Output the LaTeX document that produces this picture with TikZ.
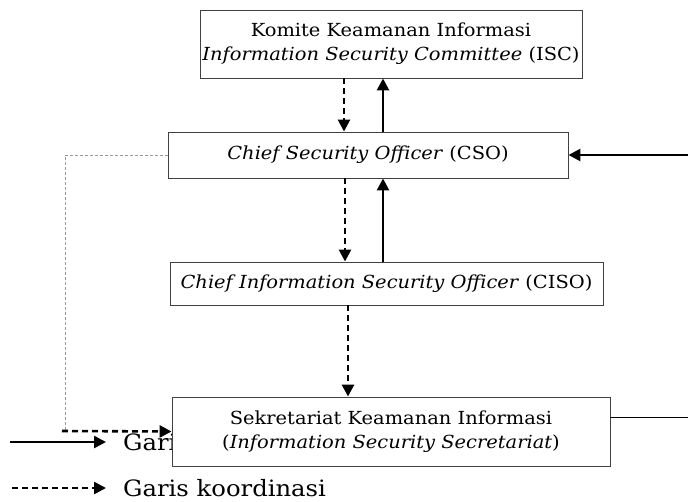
\documentclass[tikz,border=0pt]{standalone}
\usepackage{fontspec}
\setmainfont[FakeStretch=1.08]{DejaVu Serif}
\usetikzlibrary{arrows.meta,positioning,calc}

\begin{document}
\begin{tikzpicture}[x=1pt,y=-1pt,
    unit/.style={draw=black!75,line width=0.9pt,fill=white,align=center,inner sep=0pt,
      font=\fontsize{18}{24}\selectfont},
    cmdline/.style={line width=2.6pt,-{Triangle[length=12pt,width=12pt]}},
    coordline/.style={cmdline,dash pattern=on 6pt off 4pt},
    liaison/.style={draw=black!40,line width=0.8pt,dash pattern=on 3pt off 2pt},
    legend/.style={font=\fontsize{22.5}{26}\selectfont,anchor=west,inner sep=0pt}]
  \useasboundingbox (0,0) rectangle (688,501);
  % legend first, the box below hides part of it
  \coordinate (l1a) at (10,442);
  \coordinate (l1b) at (106,442);
  \coordinate (l2a) at (12,488);
  \coordinate (l2b) at (106,488);
  \draw[cmdline] (l1a) -- (l1b);
  \draw[coordline] (l2a) -- (l2b);
  \node[legend,right=17pt of l1b] (t1) {Garis};
  \node[legend,right=17pt of l2b] (t2) {Garis koordinasi};

  \node[unit,minimum width=382pt,minimum height=68pt] (isc) at (391,44)
    {Komite Keamanan Informasi\\\textit{Information Security Committee} (ISC)};
  \node[unit,minimum width=400pt,minimum height=46pt] (cso) at (368,155)
    {\textit{Chief Security Officer} (CSO)};
  \node[unit,minimum width=433pt,minimum height=43pt] (ciso) at (386.5,283.5)
    {\textit{Chief Information Security Officer} (CISO)};
  \node[unit,minimum width=438pt,minimum height=69pt] (sek) at (391,431.5)
    {Sekretariat Keamanan Informasi\\(\textit{Information Security Secretariat})};

  \draw[coordline] ([xshift=-47pt]isc.south) -- ([xshift=-24pt]cso.north);
  \draw[cmdline] ([xshift=15pt]cso.north) -- ([xshift=-8pt]isc.south);
  \draw[coordline] ([xshift=-23pt]cso.south) -- ([xshift=-41.5pt]ciso.north);
  \draw[cmdline] ([xshift=-3.5pt]ciso.north) -- ([xshift=15pt]cso.south);
  \draw[coordline] ([xshift=-38.5pt]ciso.south) -- ([xshift=-43pt]sek.north);

  \coordinate (ext) at (688,155);
  \draw[cmdline] (ext) -- (cso.east);
  \coordinate (ext2) at (688,417);
  \draw[line width=0.9pt] ([yshift=14.5pt]sek.east) -- (ext2);

  \coordinate (bend) at (65,431);
  \draw[liaison] (cso.west) -| (bend);
  \draw[coordline] ([xshift=-3pt]bend) -- (sek.west);
\end{tikzpicture}
\end{document}
